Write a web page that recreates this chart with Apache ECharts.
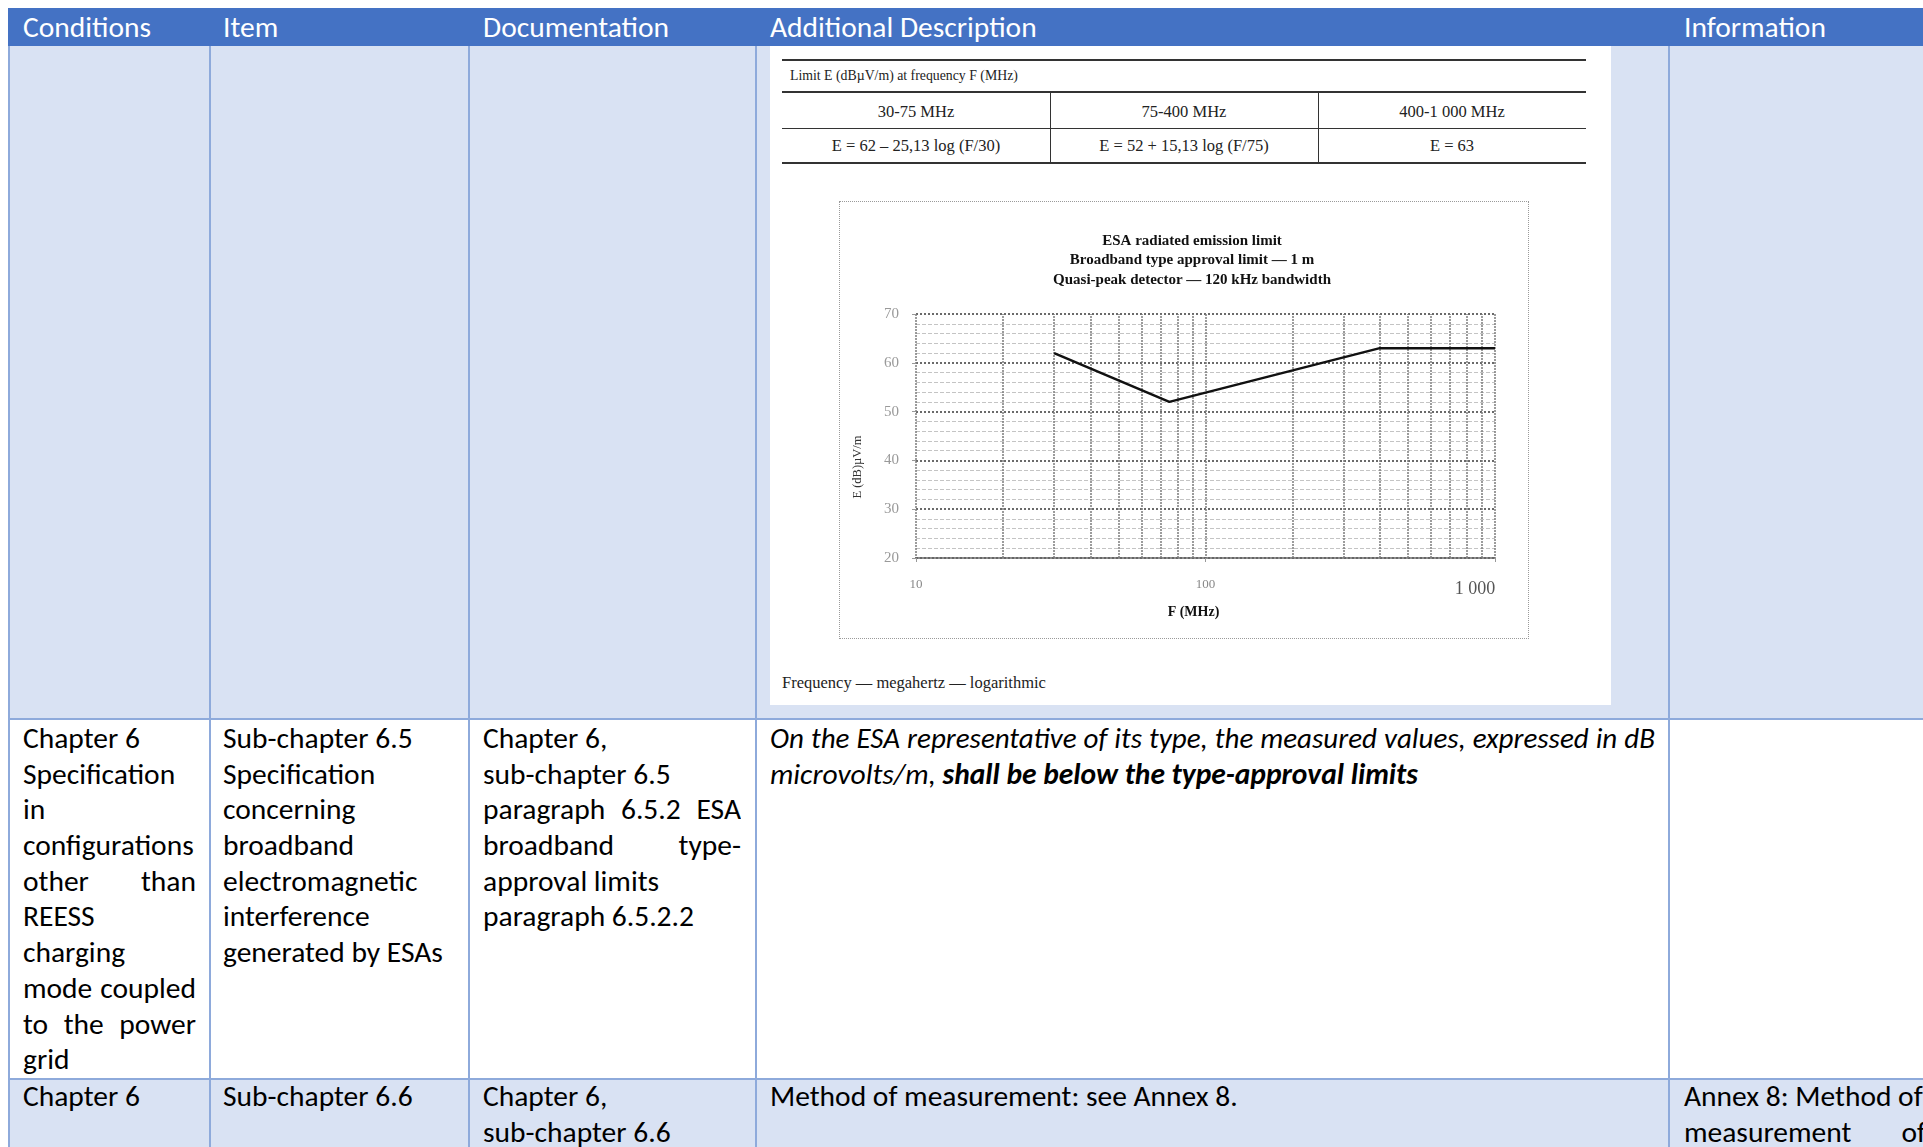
<!DOCTYPE html>
<html>
<head>
<meta charset="utf-8">
<script src="https://cdn.jsdelivr.net/npm/echarts@6/dist/echarts.min.js"></script>
<style>
  html, body { margin: 0; padding: 0; background: #fff; }
  body { width: 1923px; height: 1147px; overflow: hidden; position: relative;
         font-family: Carlito, Calibri, Lato, sans-serif; color: #000; }
  .a { position: absolute; }
  .hdr { left: 8px; top: 8px; width: 1940px; height: 38px; background: #4472C4; }
  .ht { top: 8px; height: 38px; line-height: 38px; color: #fff; font-size: 29.5px; white-space: nowrap; }
  .band { left: 9px; width: 1940px; }
  .vl { width: 2px; background: #8EAADB; }
  .hl { left: 9px; width: 1940px; height: 2px; background: #8EAADB; }
  .cell { font-size: 29.5px; line-height: 35.7px; }
  .cell div { white-space: nowrap; height: 35.7px; }
  .cell div.j { text-align: justify; text-align-last: justify; white-space: normal; overflow: hidden; }
  .it { font-style: italic; }
  .serif { font-family: "Liberation Serif", "Times New Roman", serif; color: #222; white-space: nowrap; }
  .rule { background: #333; }
  #frame { left: 839px; top: 201px; width: 690px; height: 438px; box-sizing: border-box;
           border: 1px dotted #9a9a9a; }
  #chart { left: 839px; top: 201px; width: 690px; height: 438px; }
</style>
</head>
<body>
<!-- table bands -->
<div class="a band" style="top:46px;height:673px;background:#D9E2F3"></div>
<div class="a band" style="top:719px;height:360px;background:#fff"></div>
<div class="a band" style="top:1079px;height:80px;background:#D9E2F3"></div>

<!-- header -->
<div class="a hdr"></div>
<div class="a ht" style="left:23px">Conditions</div>
<div class="a ht" style="left:223px">Item</div>
<div class="a ht" style="left:483px">Documentation</div>
<div class="a ht" style="left:770px">Additional Description</div>
<div class="a ht" style="left:1684px">Information</div>

<!-- grid lines of the table -->
<div class="a vl" style="left:8px;top:46px;height:1110px"></div>
<div class="a vl" style="left:209px;top:46px;height:1110px"></div>
<div class="a vl" style="left:468px;top:46px;height:1110px"></div>
<div class="a vl" style="left:755px;top:46px;height:1110px"></div>
<div class="a vl" style="left:1668px;top:46px;height:1110px"></div>
<div class="a hl" style="top:718px"></div>
<div class="a hl" style="top:1078px"></div>

<!-- figure: white sheet with limit table, chart and caption -->
<div class="a" style="left:770px;top:46px;width:841px;height:659px;background:#fff"></div>

<div class="a rule" style="left:782px;top:59px;width:804px;height:2px"></div>
<div class="a serif" style="left:790px;top:66px;font-size:13.8px;line-height:20px">Limit E (dBµV/m) at frequency F (MHz)</div>
<div class="a rule" style="left:782px;top:91px;width:804px;height:2px"></div>
<div class="a rule" style="left:782px;top:128px;width:804px;height:1px"></div>
<div class="a rule" style="left:782px;top:162px;width:804px;height:2px"></div>
<div class="a rule" style="left:1050px;top:92px;width:1px;height:71px"></div>
<div class="a rule" style="left:1318px;top:92px;width:1px;height:71px"></div>
<div id="bands"></div>

<div class="a" id="frame"></div>
<div class="a" id="chart"></div>

<div class="a serif" style="left:782px;top:672px;font-size:16.5px;line-height:22px">Frequency — megahertz — logarithmic</div>

<!-- row 2 -->
<div class="a cell" style="left:23px;top:721px;width:173px">
  <div>Chapter 6</div><div>Specification</div><div>in</div><div>configurations</div>
  <div class="j">other than</div><div>REESS</div><div>charging</div>
  <div class="j">mode coupled</div><div class="j">to the power</div><div>grid</div>
</div>
<div class="a cell" style="left:223px;top:721px;width:232px">
  <div>Sub-chapter 6.5</div><div>Specification</div><div>concerning</div><div>broadband</div>
  <div>electromagnetic</div><div>interference</div><div>generated by ESAs</div>
</div>
<div class="a cell" style="left:483px;top:721px;width:258px">
  <div>Chapter 6,</div><div>sub-chapter 6.5</div>
  <div class="j">paragraph 6.5.2 ESA</div><div class="j">broadband type-</div>
  <div>approval limits</div><div>paragraph 6.5.2.2</div>
</div>
<div class="a cell it" style="left:770px;top:721px;width:885px">
  <div class="j">On the ESA representative of its type, the measured values, expressed in dB</div>
  <div>microvolts/m, <b>shall be below the type-approval limits</b></div>
</div>

<!-- row 3 -->
<div class="a cell" style="left:23px;top:1079px;width:173px"><div>Chapter 6</div></div>
<div class="a cell" style="left:223px;top:1079px;width:232px"><div>Sub-chapter 6.6</div></div>
<div class="a cell" style="left:483px;top:1079px;width:258px"><div>Chapter 6,</div><div>sub-chapter 6.6</div></div>
<div class="a cell" style="left:770px;top:1079px;width:885px"><div>Method of measurement: see Annex 8.</div></div>
<div class="a cell" style="left:1684px;top:1079px;width:242px">
  <div>Annex 8: Method of</div><div class="j">measurement of</div>
</div>

<script>
// Frequency bands and their limit formulas (table above the chart)
const bandLabels = ['30-75 MHz', '75-400 MHz', '400-1 000 MHz'];
const bandFormulas = ['E = 62 – 25,13 log (F/30)', 'E = 52 + 15,13 log (F/75)', 'E = 63'];

// Limit curve: corner frequencies (MHz) and limit values (dBµV/m)
const freqMHz = [30, 75, 400, 1000];
const limitDb = [62, 52, 63, 63];

// Logarithmic grid between the decades
const gridFreqs = [20, 30, 40, 50, 60, 70, 80, 90, 200, 300, 400, 500, 600, 700, 800, 900];

const titleLines = [
  'ESA radiated emission limit',
  'Broadband type approval limit — 1 m',
  'Quasi-peak detector — 120 kHz bandwidth'
];
const xTickLabels = { 10: '10', 100: '100', 1000: '1 000' };

// band table cells
(function () {
  const host = document.getElementById('bands');
  const colLeft = [782, 1050, 1318];
  const colW = 268;
  bandLabels.forEach(function (t, i) {
    const d = document.createElement('div');
    d.className = 'a serif';
    d.style.cssText = 'left:' + colLeft[i] + 'px;width:' + colW + 'px;top:101px;font-size:16.5px;line-height:22px;text-align:center';
    d.textContent = t;
    host.appendChild(d);
    const f = document.createElement('div');
    f.className = 'a serif';
    f.style.cssText = 'left:' + colLeft[i] + 'px;width:' + colW + 'px;top:135px;font-size:16.5px;line-height:22px;text-align:center';
    f.textContent = bandFormulas[i];
    host.appendChild(f);
  });
})();

// justified single lines: shrink slightly if a line would wrap
document.querySelectorAll('.cell div.j').forEach(function (el) {
  el.style.height = 'auto';
  let fs = parseFloat(getComputedStyle(el).fontSize);
  while (el.scrollHeight > 40 && fs > 20) {
    fs -= 0.25;
    el.style.fontSize = fs + 'px';
  }
  el.style.height = '35.7px';
});

const serif = '"Liberation Serif", "Times New Roman", serif';
const chart = echarts.init(document.getElementById('chart'), null, { renderer: 'canvas' });
chart.setOption({
  animation: false,
  grid: { left: 77, top: 113, right: 34, bottom: 81 },
  graphic: [{
    type: 'text',
    x: 353, y: 30,
    style: {
      text: titleLines.join('\n'),
      align: 'center', verticalAlign: 'top',
      fontFamily: serif, fontWeight: 'bold', fontSize: 15, lineHeight: 19.5,
      fill: '#111'
    }
  }],
  xAxis: {
    type: 'log', logBase: 10, min: 10, max: 1000,
    name: 'F (MHz)', nameLocation: 'middle', nameGap: 47,
    nameTextStyle: { fontFamily: serif, fontWeight: 'bold', fontSize: 14, color: '#111', padding: [0, 24, 0, 0] },
    axisLine: { show: true, lineStyle: { color: '#666', width: 2, type: 'dotted' } },
    axisTick: { show: true, length: 4, lineStyle: { color: '#999' } },
    axisLabel: {
      margin: 20, color: '#888', fontFamily: serif, fontSize: 13,
      formatter: function (v) { return v === 1000 ? '{big|' + xTickLabels[v] + '}' : (xTickLabels[v] || ''); },
      rich: { big: { fontFamily: serif, fontSize: 18, color: '#555', padding: [2, 40, 0, 0] } }
    },
    splitLine: { show: true, lineStyle: { color: '#7c7c7c', width: 1.5, type: [2, 1] } }
  },
  yAxis: {
    type: 'value', min: 20, max: 70, interval: 10,
    name: 'E (dB)µV/m', nameLocation: 'middle', nameRotate: 90, nameGap: 52,
    nameTextStyle: { fontFamily: serif, fontSize: 12.5, color: '#333', padding: [0, 62, 0, 0] },
    axisLine: { show: false },
    axisTick: { show: true, length: 4, lineStyle: { color: '#999' } },
    axisLabel: { margin: 17, color: '#999', fontFamily: serif, fontSize: 15 },
    splitLine: { lineStyle: { color: '#6a6a6a', width: 2, type: 'dotted' } },
    minorTick: { show: false, splitNumber: 5 },
    minorSplitLine: { show: true, lineStyle: { color: '#c4c4c4', width: 1, type: 'dashed' } }
  },
  series: [
    {
      type: 'line', data: [], z: 1, silent: true,
      markLine: {
        silent: true, symbol: 'none', label: { show: false },
        lineStyle: { color: '#7c7c7c', width: 1.5, type: [2, 1] },
        emphasis: { disabled: true },
        data: gridFreqs.map(function (f) { return { xAxis: f }; })
      }
    },
    {
      type: 'line', z: 5, symbol: 'none',
      data: freqMHz.map(function (f, i) { return [f, limitDb[i]]; }),
      lineStyle: { color: '#111', width: 2.5 }
    }
  ]
});
</script>
</body>
</html>
